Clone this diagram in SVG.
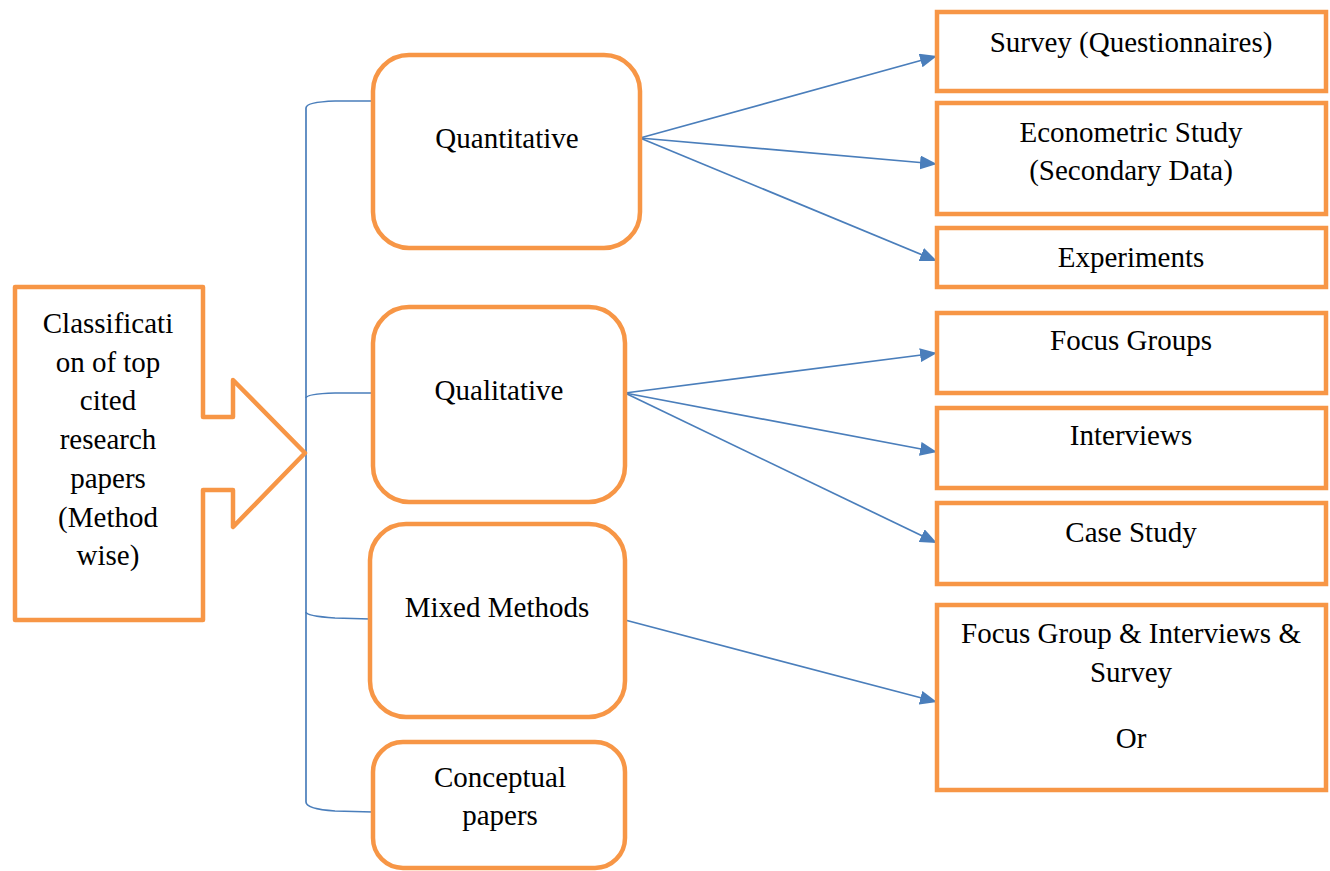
<svg xmlns="http://www.w3.org/2000/svg" width="1330" height="871" viewBox="0 0 1330 871">
<style>
.box{fill:#fff;stroke:#F79646;stroke-width:4.5}
.c{fill:none;stroke:#4A7EBB;stroke-width:1.7}
</style>
<defs>
<marker id="ah" markerUnits="userSpaceOnUse" markerWidth="18" markerHeight="14" refX="17" refY="7" orient="auto">
<path d="M0,0 L17,7 L0,14 Z" fill="#4A7EBB"/>
</marker>
</defs>
<rect width="1330" height="871" fill="#fff"/>
<g id="connectors">
<path class="c" d="M372,101 L335,101 Q306,102 306,108 L306,802 Q306,809 335,811 L373,812"/>
<path class="c" d="M306,398 Q306,394 335,393 L373,393"/>
<path class="c" d="M306,612 Q306,616 335,618 L370,619"/>
<line class="c" x1="640" y1="138" x2="937" y2="56" marker-end="url(#ah)"/>
<line class="c" x1="640" y1="138" x2="937" y2="164" marker-end="url(#ah)"/>
<line class="c" x1="640" y1="138" x2="937" y2="261" marker-end="url(#ah)"/>
<line class="c" x1="625" y1="393" x2="937" y2="353" marker-end="url(#ah)"/>
<line class="c" x1="625" y1="393" x2="937" y2="452" marker-end="url(#ah)"/>
<line class="c" x1="625" y1="393" x2="937" y2="543" marker-end="url(#ah)"/>
<line class="c" x1="625" y1="620" x2="937" y2="702" marker-end="url(#ah)"/>
</g>
<g id="root">
<path class="box" d="M15,287 L203,287 L203,417 L233,417 L233,380 L305,453 L233,527 L233,490 L203,490 L203,620 L15,620 Z" stroke-linejoin="round"/>
<text font-family="Liberation Serif" font-size="29" text-anchor="middle" x="108" y="333">Classificati</text>
<text font-family="Liberation Serif" font-size="29" text-anchor="middle" x="108" y="372">on of top</text>
<text font-family="Liberation Serif" font-size="29" text-anchor="middle" x="108" y="410">cited</text>
<text font-family="Liberation Serif" font-size="29" text-anchor="middle" x="108" y="449">research</text>
<text font-family="Liberation Serif" font-size="29" text-anchor="middle" x="108" y="488">papers</text>
<text font-family="Liberation Serif" font-size="29" text-anchor="middle" x="108" y="527">(Method</text>
<text font-family="Liberation Serif" font-size="29" text-anchor="middle" x="108" y="565">wise)</text>
</g>
<g id="quantitative">
<rect class="box" x="373" y="55" width="267" height="193" rx="36"/>
<text font-family="Liberation Serif" font-size="29" text-anchor="middle" x="507" y="148">Quantitative</text>
</g>
<g id="qualitative">
<rect class="box" x="373" y="307" width="252" height="195" rx="36"/>
<text font-family="Liberation Serif" font-size="29" text-anchor="middle" x="499" y="400">Qualitative</text>
</g>
<g id="mixed">
<rect class="box" x="370" y="524" width="255" height="193" rx="36"/>
<text font-family="Liberation Serif" font-size="29" text-anchor="middle" x="497" y="617">Mixed Methods</text>
</g>
<g id="conceptual">
<rect class="box" x="373" y="742" width="252" height="126" rx="30"/>
<text font-family="Liberation Serif" font-size="29" text-anchor="middle" x="500" y="787">Conceptual</text>
<text font-family="Liberation Serif" font-size="29" text-anchor="middle" x="500" y="825">papers</text>
</g>
<g id="survey">
<rect class="box" x="937" y="12" width="389" height="79"/>
<text font-family="Liberation Serif" font-size="29" text-anchor="middle" x="1131" y="52">Survey (Questionnaires)</text>
</g>
<g id="econometric">
<rect class="box" x="937" y="103" width="389" height="111"/>
<text font-family="Liberation Serif" font-size="29" text-anchor="middle" x="1131" y="142">Econometric Study</text>
<text font-family="Liberation Serif" font-size="29" text-anchor="middle" x="1131" y="180">(Secondary Data)</text>
</g>
<g id="experiments">
<rect class="box" x="937" y="228" width="389" height="59"/>
<text font-family="Liberation Serif" font-size="29" text-anchor="middle" x="1131" y="267">Experiments</text>
</g>
<g id="focusgroups">
<rect class="box" x="937" y="313" width="389" height="80"/>
<text font-family="Liberation Serif" font-size="29" text-anchor="middle" x="1131" y="350">Focus Groups</text>
</g>
<g id="interviews">
<rect class="box" x="937" y="408" width="389" height="80"/>
<text font-family="Liberation Serif" font-size="29" text-anchor="middle" x="1131" y="445">Interviews</text>
</g>
<g id="casestudy">
<rect class="box" x="937" y="503" width="389" height="81"/>
<text font-family="Liberation Serif" font-size="29" text-anchor="middle" x="1131" y="542">Case Study</text>
</g>
<g id="mixedoptions">
<rect class="box" x="937" y="605" width="389" height="185"/>
<text font-family="Liberation Serif" font-size="29" text-anchor="middle" x="1131" y="643">Focus Group &amp; Interviews &amp;</text>
<text font-family="Liberation Serif" font-size="29" text-anchor="middle" x="1131" y="682">Survey</text>
<text font-family="Liberation Serif" font-size="29" text-anchor="middle" x="1131" y="748">Or</text>
</g>
</svg>
